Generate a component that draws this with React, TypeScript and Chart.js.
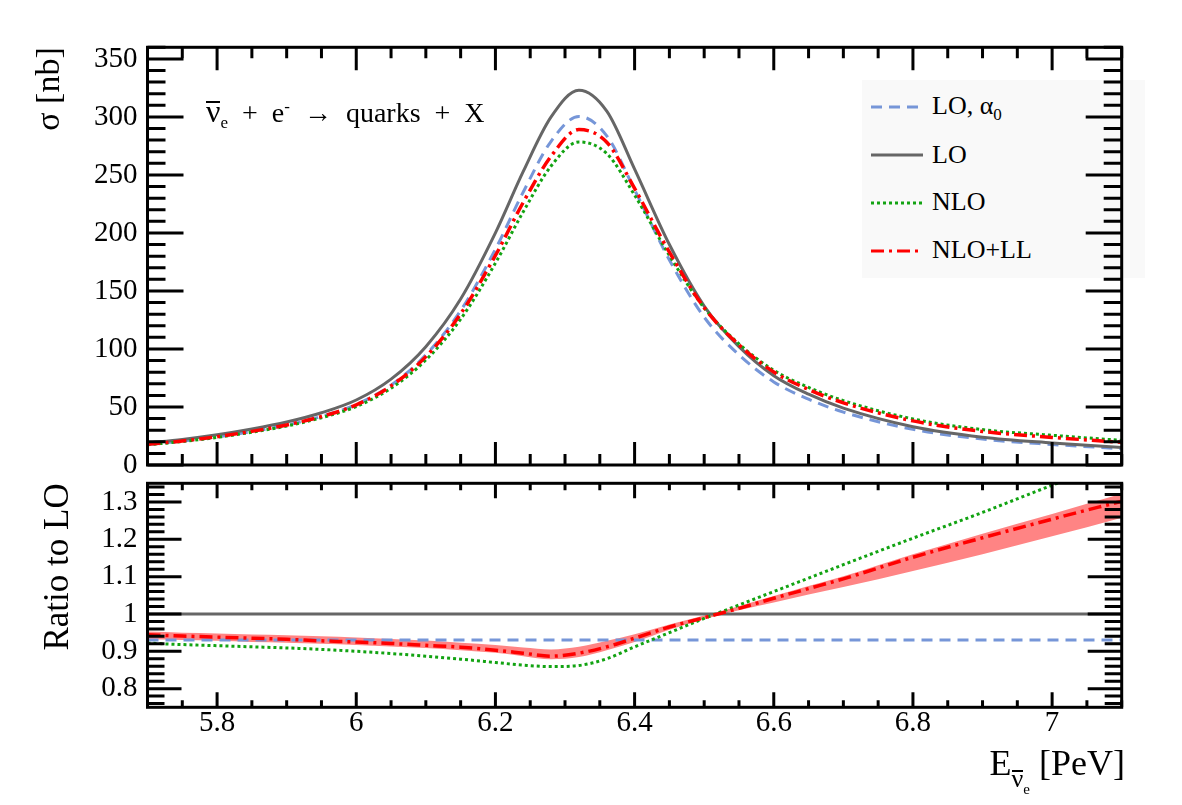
import React, { useEffect, useRef } from "react";
import { Chart, registerables } from "chart.js";

Chart.register(...registerables);

// ---------------- data ----------------
const energy = [5.7, 5.75, 5.8, 5.85, 5.9, 5.95, 6.0, 6.05, 6.1, 6.15, 6.2, 6.24, 6.28, 6.32, 6.36, 6.4, 6.45, 6.5, 6.55, 6.6, 6.65, 6.7, 6.8, 6.9, 7.0, 7.1];
const sigmaLO = [19, 22, 26, 31, 37, 45, 56, 74, 102, 143, 200, 253, 300, 323, 305, 255, 190, 137, 102, 77, 61, 49, 33, 24, 19, 15];
const sigmaLOalpha0 = [17.7, 20.5, 24.2, 28.8, 34.4, 41.9, 52.1, 68.8, 94.9, 133, 186, 235.3, 279, 300.4, 283.7, 237.2, 176.7, 127.4, 94.9, 71.6, 56.7, 45.6, 30.7, 22.3, 17.7, 14.0];
const sigmaNLO = [17.5, 20.2, 23.8, 28.3, 33.6, 40.7, 50.4, 66.2, 90.5, 125.7, 174, 218.3, 257.7, 278.4, 268.4, 232.6, 180.5, 135.4, 104.4, 81.6, 66.9, 55.5, 39.7, 30.5, 25.6, 21.2];
const sigmaNLOLL = [17.9, 20.7, 24.4, 29.0, 34.5, 41.8, 51.8, 68.2, 93.4, 130.3, 180.6, 226.4, 266.1, 289.1, 278.2, 238.4, 183.4, 135.6, 103.5, 80.2, 65.1, 53.6, 38.0, 28.9, 23.8, 19.5];

const ratioNLO = [0.922, 0.918, 0.915, 0.912, 0.909, 0.905, 0.9, 0.894, 0.887, 0.879, 0.87, 0.863, 0.859, 0.862, 0.88, 0.912, 0.95, 0.988, 1.024, 1.06, 1.096, 1.132, 1.203, 1.272, 1.345, 1.415];
const ratioNLOLL = [0.944, 0.941, 0.938, 0.935, 0.932, 0.928, 0.925, 0.921, 0.916, 0.911, 0.903, 0.895, 0.887, 0.895, 0.912, 0.935, 0.965, 0.99, 1.015, 1.042, 1.068, 1.094, 1.152, 1.204, 1.254, 1.302];
const ratioBandUp = [0.953, 0.95, 0.948, 0.945, 0.943, 0.94, 0.937, 0.933, 0.929, 0.923, 0.917, 0.91, 0.905, 0.912, 0.928, 0.946, 0.972, 0.996, 1.021, 1.048, 1.075, 1.101, 1.16, 1.215, 1.268, 1.322];
const ratioBandLow = [0.932, 0.93, 0.928, 0.925, 0.923, 0.92, 0.917, 0.913, 0.909, 0.903, 0.896, 0.887, 0.879, 0.885, 0.903, 0.925, 0.958, 0.986, 1.01, 1.031, 1.052, 1.072, 1.115, 1.16, 1.208, 1.258];
const ratioFlatEnergy = [5.7, 7.1];
const ratioLO = [1, 1];
const ratioLOalpha0 = [0.93, 0.93];

const xTicks = [5.8, 6, 6.2, 6.4, 6.6, 6.8, 7];
const sigmaTicks = [0, 50, 100, 150, 200, 250, 300, 350];
const ratioTicks = [0.8, 0.9, 1, 1.1, 1.2, 1.3];

// ---------------- styles ----------------
const serif = "'Liberation Serif', 'Liberation Sans', Arial, sans-serif";
const cLO = "#666666";
const cLOa = "rgb(118,150,216)";
const cNLO = "#12a312";
const cNLOLL = "#ff0000";
const cBand = "#ff8484";
const dashLOa = [11, 7];
const dashNLO = [3, 3];
const dashNLOLL = [13, 5, 3, 5];
const TICK_FONT = 29;

const pts = (xs: number[], ys: number[]) => xs.map((x, i) => ({ x, y: ys[i] }));
const fmt = (v: number) => String(Math.round(v * 100) / 100);

type TickCfg = {
  xMajor: number[]; xMinor: number; yMajor: number[]; yMinor: number;
  xMajLen: number; xMinLen: number; yMajLen: number; yMinLen: number;
};

function framePlugin(cfg: TickCfg) {
  return {
    id: "rootFrame",
    afterDatasetsDraw(chart: any) {
      const { ctx, chartArea: a, scales } = chart;
      const sx = scales.x, sy = scales.y;
      const isMajor = (v: number, arr: number[]) => arr.some((m) => Math.abs(m - v) < 1e-6);
      ctx.save();
      ctx.strokeStyle = "#000";
      ctx.lineWidth = 3;
      ctx.lineCap = "butt";
      ctx.setLineDash([]);
      ctx.beginPath();
      const kx0 = Math.ceil(sx.min / cfg.xMinor - 1e-6), kx1 = Math.floor(sx.max / cfg.xMinor + 1e-6);
      for (let k = kx0; k <= kx1; k++) {
        const v = k * cfg.xMinor;
        const len = isMajor(v, cfg.xMajor) ? cfg.xMajLen : cfg.xMinLen;
        const p = sx.getPixelForValue(v);
        ctx.moveTo(p, a.bottom); ctx.lineTo(p, a.bottom - len);
        ctx.moveTo(p, a.top); ctx.lineTo(p, a.top + len);
      }
      const ky0 = Math.ceil(sy.min / cfg.yMinor - 1e-6), ky1 = Math.floor(sy.max / cfg.yMinor + 1e-6);
      for (let k = ky0; k <= ky1; k++) {
        const v = k * cfg.yMinor;
        const len = isMajor(v, cfg.yMajor) ? cfg.yMajLen : cfg.yMinLen;
        const p = sy.getPixelForValue(v);
        ctx.moveTo(a.left, p); ctx.lineTo(a.left + len, p);
        ctx.moveTo(a.right, p); ctx.lineTo(a.right - len, p);
      }
      ctx.stroke();
      ctx.strokeRect(a.left, a.top, a.right - a.left, a.bottom - a.top);
      ctx.restore();
    },
  };
}

const lineDs = (label: string, data: any[], color: string, dash: number[], width = 3) => ({
  label, data, borderColor: color, borderDash: dash, borderWidth: width,
  pointRadius: 0, fill: false, cubicInterpolationMode: "monotone" as const, borderCapStyle: "butt" as const,
});

const LEFT = 147.5;
const RIGHT_PAD = 1182 - 1121.7;

const yFit = (s: any) => { s.width = LEFT; s.paddingTop = 0; s.paddingBottom = 0; };

export default function App() {
  const topRef = useRef<HTMLCanvasElement>(null);
  const botRef = useRef<HTMLCanvasElement>(null);

  useEffect(() => {
    const top = new Chart(topRef.current!, {
      type: "line",
      data: {
        datasets: [
          lineDs("NLO+LL", pts(energy, sigmaNLOLL), cNLOLL, dashNLOLL, 3.5),
          lineDs("NLO", pts(energy, sigmaNLO), cNLO, dashNLO),
          lineDs("LO", pts(energy, sigmaLO), cLO, []),
          lineDs("LO, α0", pts(energy, sigmaLOalpha0), cLOa, dashLOa),
        ],
      },
      options: {
        animation: false, responsive: false, devicePixelRatio: 1,
        layout: { padding: { top: 47.3, right: RIGHT_PAD, left: 0, bottom: 0 } },
        plugins: { legend: { display: false }, tooltip: { enabled: false } },
        scales: {
          x: {
            type: "linear", min: 5.7, max: 7.1,
            grid: { display: false, drawTicks: false }, border: { display: false },
            ticks: { display: false },
            afterBuildTicks: (s: any) => { s.ticks = xTicks.map((v) => ({ value: v })); },
            afterFit: (s: any) => { s.height = 10; },
          },
          y: {
            type: "linear", min: 0, max: 360,
            grid: { display: false, drawTicks: false }, border: { display: false },
            ticks: { color: "#000", padding: 10, font: { family: serif, size: TICK_FONT }, callback: (v: any) => fmt(Number(v)) },
            afterBuildTicks: (s: any) => { s.ticks = sigmaTicks.map((v) => ({ value: v })); },
            afterFit: yFit,
            title: { display: true, text: "σ [nb]", align: "end", color: "#000", font: { family: serif, size: 34 }, padding: { top: 30, bottom: 0 } },
          },
        },
      } as any,
      plugins: [framePlugin({ xMajor: xTicks, xMinor: 0.05, yMajor: sigmaTicks, yMinor: 10, xMajLen: 23, xMinLen: 11, yMajLen: 36, yMinLen: 18 })],
    });

    const bot = new Chart(botRef.current!, {
      type: "line",
      data: {
        datasets: [
          lineDs("NLO+LL", pts(energy, ratioNLOLL), cNLOLL, dashNLOLL, 3.5),
          lineDs("NLO", pts(energy, ratioNLO), cNLO, dashNLO),
          lineDs("LO", pts(ratioFlatEnergy, ratioLO), cLO, []),
          lineDs("LO, α0", pts(ratioFlatEnergy, ratioLOalpha0), cLOa, dashLOa),
          { label: "band up", data: pts(energy, ratioBandUp), borderWidth: 0, borderColor: cBand, backgroundColor: cBand, pointRadius: 0, fill: "+1", cubicInterpolationMode: "monotone" },
          { label: "band low", data: pts(energy, ratioBandLow), borderWidth: 0, borderColor: cBand, pointRadius: 0, fill: false, cubicInterpolationMode: "monotone" },
        ],
      },
      options: {
        animation: false, responsive: false, devicePixelRatio: 1,
        layout: { padding: { top: 13.3, right: RIGHT_PAD, left: 0, bottom: 0 } },
        plugins: { legend: { display: false }, tooltip: { enabled: false } },
        scales: {
          x: {
            type: "linear", min: 5.7, max: 7.1,
            grid: { display: false, drawTicks: false }, border: { display: false },
            ticks: { color: "#000", padding: 2, maxRotation: 0, autoSkip: false, font: { family: serif, size: TICK_FONT, lineHeight: 1 }, callback: (v: any) => fmt(Number(v)) },
            afterBuildTicks: (s: any) => { s.ticks = xTicks.map((v) => ({ value: v })); },
            afterFit: (s: any) => { s.height = 97.7; s.paddingLeft = 0; s.paddingRight = 0; },
          },
          y: {
            type: "linear", min: 0.75, max: 1.35,
            grid: { display: false, drawTicks: false }, border: { display: false },
            ticks: { color: "#000", padding: 10, font: { family: serif, size: TICK_FONT }, callback: (v: any) => fmt(Number(v)) },
            afterBuildTicks: (s: any) => { s.ticks = ratioTicks.map((v) => ({ value: v })); },
            afterFit: yFit,
            title: { display: true, text: "Ratio to LO", align: "end", color: "#000", font: { family: serif, size: 35 }, padding: { top: 38, bottom: 0 } },
          },
        },
      } as any,
      plugins: [framePlugin({ xMajor: xTicks, xMinor: 0.05, yMajor: ratioTicks, yMinor: 0.02, xMajLen: 15, xMinLen: 7, yMajLen: 34, yMinLen: 17 })],
    });

    return () => { top.destroy(); bot.destroy(); };
  }, []);

  const legendRows = [
    { y: 106.7, color: cLOa, dash: dashLOa, label: <>LO, α<span style={{ fontSize: 17, position: "relative", top: 6 }}>0</span></> },
    { y: 155, color: cLO, dash: [] as number[], label: <>LO</> },
    { y: 202.7, color: cNLO, dash: dashNLO, label: <>NLO</> },
    { y: 250.7, color: cNLOLL, dash: dashNLOLL, label: <>NLO+LL</> },
  ];

  const bar = (size: number) => ({ display: "inline-block", borderTop: "2px solid #000", lineHeight: 0.55, fontSize: size } as React.CSSProperties);

  return (
    <div style={{ position: "absolute", left: 0, top: 0, width: 1182, height: 805, background: "#fff", overflow: "hidden", fontFamily: serif, color: "#000" }}>
      <div style={{ position: "absolute", left: 862, top: 80, width: 283, height: 198, background: "#f9f9f9" }} />
      {legendRows.map((r, i) => (
        <React.Fragment key={i}>
          <svg width={52} height={10} style={{ position: "absolute", left: 871, top: r.y - 5 }}>
            <line x1={0} y1={5} x2={52} y2={5} stroke={r.color} strokeWidth={3} strokeDasharray={r.dash.length ? r.dash.join(",") : undefined} />
          </svg>
          <div style={{ position: "absolute", left: 932, top: r.y - 13.5, fontSize: 26, lineHeight: "26px", whiteSpace: "nowrap" }}>{r.label}</div>
        </React.Fragment>
      ))}
      <canvas ref={topRef} width={1182} height={475} style={{ position: "absolute", left: 0, top: 0, width: 1182, height: 475 }} />
      <canvas ref={botRef} width={1182} height={335} style={{ position: "absolute", left: 0, top: 470, width: 1182, height: 335 }} />
      <div style={{ position: "absolute", left: 206, top: 99, fontSize: 28, lineHeight: "28px", whiteSpace: "nowrap", wordSpacing: 7 }}>
        <span style={bar(32)}>ν</span>
        <span style={{ fontSize: 17, position: "relative", top: 6 }}>e</span>
        {" + e"}
        <span style={{ fontSize: 17, position: "relative", top: -10 }}>-</span>
        {" \u2192 quarks + X"}
      </div>
      <div style={{ position: "absolute", right: 1182 - 1125, top: 745, fontSize: 36, lineHeight: "36px", whiteSpace: "nowrap" }}>
        E
        <span style={{ position: "relative", top: 12, ...bar(26) }}>ν</span>
        <span style={{ fontSize: 15, position: "relative", top: 19 }}>e</span>
        {"\u00a0[PeV]"}
      </div>
    </div>
  );
}
